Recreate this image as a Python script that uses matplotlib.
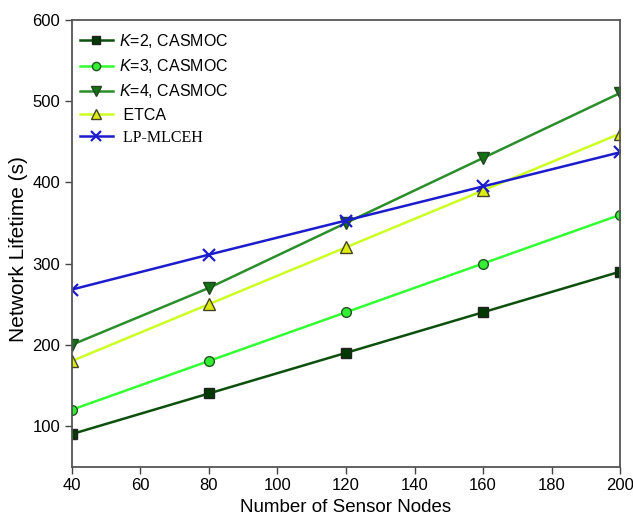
import matplotlib
matplotlib.use("Agg")
import matplotlib.pyplot as plt

plt.rcParams['font.family'] = ['Liberation Sans', 'DejaVu Sans']
plt.rcParams['mathtext.fontset'] = 'custom'
plt.rcParams['mathtext.rm'] = 'Liberation Sans'
plt.rcParams['mathtext.it'] = 'Liberation Sans:italic'

nodes = [40, 80, 120, 160, 200]
k2 = [90, 140, 190, 240, 290]
k3 = [120, 180, 240, 300, 360]
k4 = [200, 270, 350, 430, 510]
etca = [180, 250, 320, 390, 460]
lp = [268, 311, 353, 395, 437]

labels = ["$K$=2, CASMOC", "$K$=3, CASMOC", "$K$=4, CASMOC", " ETCA", " LP-MLCEH"]
xticks = [40, 60, 80, 100, 120, 140, 160, 180, 200]
yticks = [100, 200, 300, 400, 500, 600]

fig = plt.figure(figsize=(6.33, 5.18), dpi=100)
ax = fig.add_axes([0.1137, 0.0994, 0.8658, 0.862])

ax.plot(nodes, k2, color='#0d4f0d', lw=1.8, marker='s', ms=7, mfc='#003a00', mec='#222222', label=labels[0])
ax.plot(nodes, k3, color='#33ff33', lw=1.8, marker='o', ms=7, mfc='#33ee33', mec='#225522', label=labels[1])
ax.plot(nodes, k4, color='#2a8f2a', lw=1.8, marker='v', ms=8, mfc='#137313', mec='#224422', label=labels[2])
ax.plot(nodes, etca, color='#ccff22', lw=1.8, marker='^', ms=8, mfc='#dded11', mec='#444422', label=labels[3])
ax.plot(nodes, lp, color='#1c1ccc', lw=1.8, marker='x', ms=9, mew=1.6, label=labels[4])

ax.set_xlim(40, 200)
ax.set_ylim(50, 600)
ax.set_xticks(xticks)
ax.set_yticks(yticks)
ax.tick_params(direction='out', length=5, width=1, color='#444444', labelsize=12)
for s in ax.spines.values():
    s.set_color('#555555')
    s.set_linewidth(1.3)

ax.set_xlabel("Number of Sensor Nodes", fontsize=13.5)
ax.set_ylabel("Network Lifetime (s)", fontsize=15)
ax.yaxis.set_label_coords(-0.08, 0.487)

leg = ax.legend(loc='upper left', bbox_to_anchor=(0, 0.991), frameon=False, fontsize=11.5,
                handlelength=2.06, labelspacing=0.45, borderaxespad=0.1, handletextpad=0.38,
                markerscale=0.85)
leg.get_texts()[4].set_family('Liberation Serif')

fig.savefig("out.png", dpi=100)
